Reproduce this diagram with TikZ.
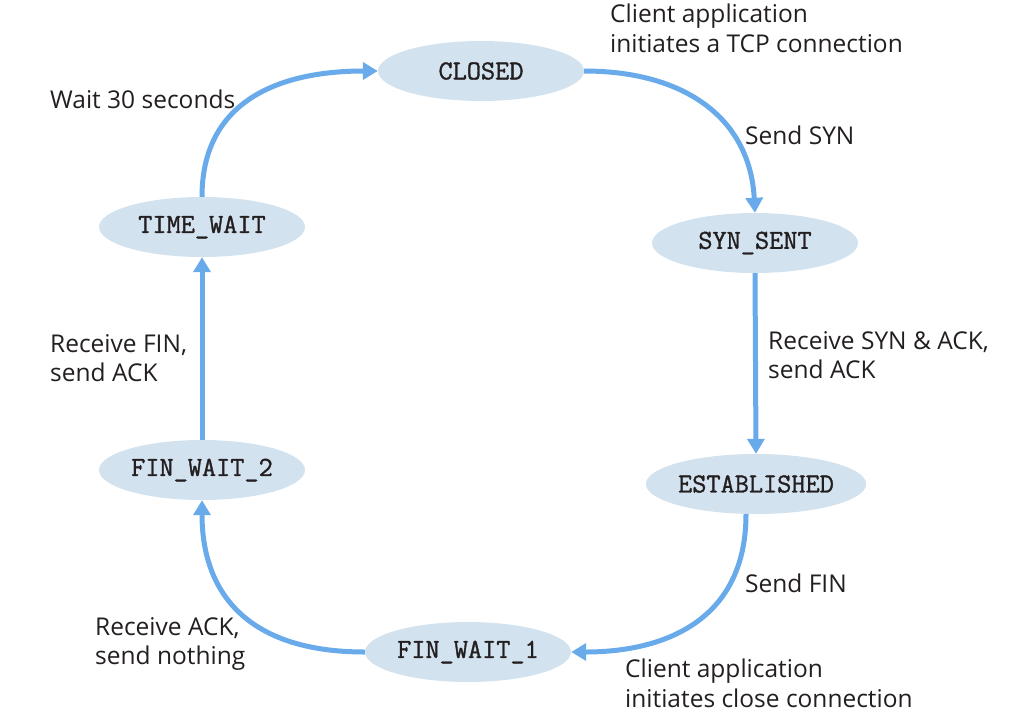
\documentclass[tikz,border=0pt]{standalone}
\usepackage{fontspec}
\setmainfont{Open Sans}
\newfontfamily\statefont[FakeBold=1.2]{Latin Modern Mono}
\usetikzlibrary{arrows.meta,shapes.geometric}
\definecolor{arrowblue}{RGB}{104,170,234}
\definecolor{statefill}{RGB}{211,226,239}
\definecolor{txt}{RGB}{35,31,32}
\tikzset{
  state/.style={ellipse, fill=statefill, minimum width=206pt, minimum height=60pt, inner sep=0pt,
    font=\statefont\fontsize{27.5}{27.5}\selectfont, text=txt},
  arr/.style={draw=arrowblue, line width=5pt, -{Triangle[length=15pt,width=17pt]}},
  lbl/.style={anchor=north west, inner sep=0pt, align=left, text=txt,
    font=\fontsize{24.5}{29.5}\selectfont}
}
\begin{document}
\begin{tikzpicture}[x=1pt,y=-1pt]
\useasboundingbox (0,0) rectangle (1016,721);
\node[state] (closed) at (481,71) {CLOSED};
\node[state] (synsent) at (755,243) {SYN\_SENT};
\node[state] (established) at (756,484) {ESTABLISHED};
\node[state] (finwaitone) at (468,652) {FIN\_WAIT\_1};
\node[state] (finwaittwo) at (202,470) {FIN\_WAIT\_2};
\node[state] (timewait) at (202,227) {TIME\_WAIT};

\draw[arr] (closed.east) .. controls +(100,0) and +(-5,-95) .. (synsent.north);
\draw[arr] (synsent.south) -- (established.north);
\draw[arr] ([xshift=-10pt]established.south) .. controls +(0,105) and +(95,0) .. (finwaitone.east);
\draw[arr] (finwaitone.west) .. controls +(-115,0) and +(0,95) .. (finwaittwo.south);
\draw[arr] (finwaittwo.north) -- (timewait.south);
\draw[arr] (timewait.north) .. controls +(0,-95) and +(-100,0) .. (closed.west);

\node[lbl] (l1) at (610,4) {Client application\\initiates a TCP connection};
\node[lbl] (l2) at (745,126) {Send SYN};
\node[lbl] (l3) at (768,331) {Receive SYN \& ACK,\\send ACK};
\node[lbl] (l4) at (745,574) {Send FIN};
\node[lbl] (l5) at (625,659) {Client application\\initiates close connection};
\node[lbl] (l6) at (95,617) {Receive ACK,\\send nothing};
\node[lbl] (l7) at (50,334) {Receive FIN,\\send ACK};
\node[lbl] (l8) at (50,90) {Wait 30 seconds};
\end{tikzpicture}
\end{document}
